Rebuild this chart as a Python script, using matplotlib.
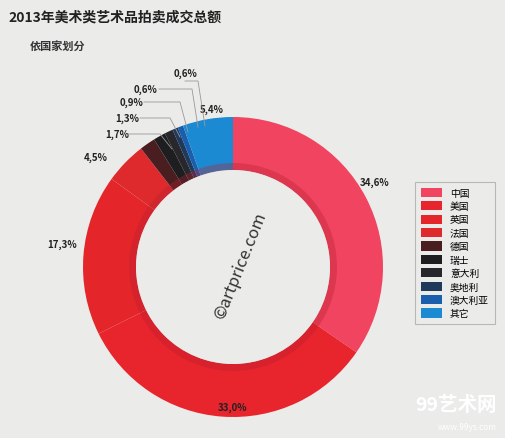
import matplotlib
matplotlib.use("Agg")
import matplotlib.pyplot as plt
from matplotlib.patches import Patch, Circle

plt.rcParams['font.family'] = ['Noto Sans CJK SC', 'DejaVu Sans']

countries = ["中国", "美国", "英国", "法国", "德国", "瑞士", "意大利", "奥地利", "澳大利亚", "其它"]
shares = [34.6, 33.0, 17.3, 4.5, 1.7, 1.3, 0.9, 0.6, 0.6, 5.4]
labels = ["34,6%", "33,0%", "17,3%", "4,5%", "1,7%", "1,3%", "0,9%", "0,6%", "0,6%", "5,4%"]
colors = ["#f04460", "#e8242c", "#e4262a", "#de2a2c", "#4a1e20", "#1e1e20",
          "#28282c", "#203a5c", "#1a5eae", "#1c8ad2"]

W, H = 505, 439
fig = plt.figure(figsize=(W/100, H/100), dpi=100)
fig.patch.set_facecolor("#ebebea")
ax = fig.add_axes([0, 0, 1, 1])
ax.set_facecolor("#ebebea")

cx, cy, R = 233, H-268, 150
ax.pie(shares, colors=colors, startangle=90, counterclock=False,
       center=(cx, cy), radius=R, frame=True,
       wedgeprops=dict(width=53, edgecolor="none"))
ax.add_patch(Circle((cx, cy), 104, facecolor="#b82030", alpha=0.35, edgecolor="none", zorder=3))
ax.add_patch(Circle((cx, cy), 97, facecolor="#ebebea", edgecolor="none", zorder=4))
ax.set_xlim(0, W); ax.set_ylim(0, H)
ax.set_aspect("auto")
ax.axis("off")

pos = [(375, 183), (233, 408), (62, 245), (96, 158), (117, 135), (127, 119),
       (131, 103), (146, 90), (185, 74), (212, 110)]
for (x, y), t in zip(pos, labels):
    ax.text(x, H-y, t, fontsize=7, fontweight="bold", ha="center", va="center", color="#222")
leaders = [[(128, 135), (160, 135), (172, 150)],
           [(140, 119), (170, 119), (180, 138)],
           [(144, 103), (180, 103), (188, 133)],
           [(159, 90), (192, 90), (198, 128)],
           [(185, 82), (198, 82), (205, 127)]]
for seg in leaders:
    ax.plot([p[0] for p in seg], [H-p[1] for p in seg], color="#999", lw=0.6, zorder=5)

fig.text(8/W, 1-18/H, "2013年美术类艺术品拍卖成交总额", fontsize=10, fontweight="bold", color="#222", va="center")
fig.text(30/W, 1-46/H, "依国家划分", fontsize=8, fontstyle="italic", fontweight="bold", color="#333", va="center")
ax.text(cx+8, cy+2, "©artprice.com", rotation=68, fontsize=12, color="#333", ha="center", va="center", zorder=6)

handles = [Patch(facecolor=c, edgecolor="none") for c in colors]
leg = ax.legend(handles, countries, loc="upper left", bbox_to_anchor=(410/W, 1-178/H),
                fontsize=7, frameon=True, fancybox=False, edgecolor="#aaa",
                facecolor="#ebebea", handlelength=2.2, handleheight=1.1,
                labelspacing=0.35, borderpad=0.6)
leg.get_frame().set_linewidth(0.8)

fig.text(1-8/W, 1-406/H, "99艺术网", fontsize=14, color="white", ha="right", va="center", fontweight="bold")
fig.text(1-8/W, 1-428/H, "www.99ys.com", fontsize=6, color="white", ha="right", va="center")

fig.savefig("out.png", dpi=100, facecolor=fig.get_facecolor())
